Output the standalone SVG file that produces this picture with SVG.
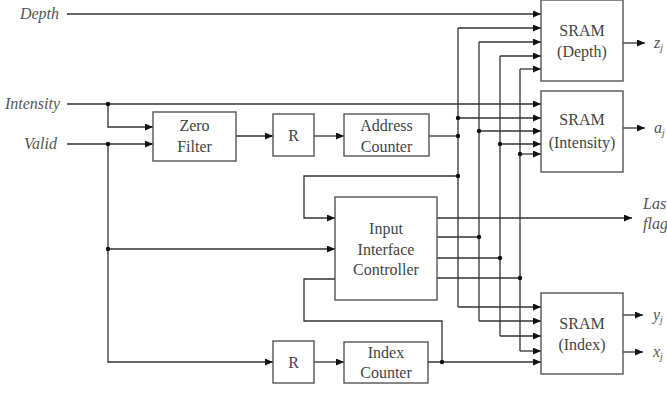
<svg xmlns="http://www.w3.org/2000/svg" width="667" height="408" viewBox="0 0 667 408">
<style>
.box{fill:#fff;stroke:#555;stroke-width:1.4}
.t{font-family:'Liberation Serif','DejaVu Serif',serif;font-size:16px;fill:#444;text-anchor:middle;dominant-baseline:central}
.lb{font-family:'Liberation Serif','DejaVu Serif',serif;font-size:16px;font-style:italic;fill:#555}
.w{fill:none;stroke:#333;stroke-width:1.3}
.a{marker-end:url(#arr)}
.d{fill:#111}
</style>
<defs>
<marker id="arr" markerUnits="userSpaceOnUse" markerWidth="9" markerHeight="8" refX="8" refY="3.5" orient="auto">
<path d="M0,0 L8,3.5 L0,7 z" fill="#111"/>
</marker>
</defs>
<rect width="667" height="408" fill="#fff"/>
<g id="labels">
<text class="lb" x="59" y="19" text-anchor="end">Depth</text>
<text class="lb" x="60" y="109" text-anchor="end">Intensity</text>
<text class="lb" x="57" y="149" text-anchor="end">Valid</text>
<text class="lb" x="654" y="48">z<tspan font-size="10" dy="3">j</tspan></text>
<text class="lb" x="654" y="133">a<tspan font-size="10" dy="3">j</tspan></text>
<text class="lb" x="643" y="209">Last</text>
<text class="lb" x="643" y="229">flag</text>
<text class="lb" x="653" y="320">y<tspan font-size="10" dy="3">j</tspan></text>
<text class="lb" x="653" y="357">x<tspan font-size="10" dy="3">j</tspan></text>
</g>
<g id="connectors">
<path class="w a" d="M67,14 H541"/>
<path class="w a" d="M67,104 H541"/>
<path class="w a" d="M108,104 V127 H153"/>
<path class="w a" d="M67,144 H153"/>
<path class="w a" d="M108,144 V362 H273"/>
<path class="w a" d="M108,249 H335"/>
<path class="w a" d="M236,136 H273"/>
<path class="w a" d="M314,136 H344"/>
<path class="w" d="M429,136 H458"/>
<path class="w" d="M458,28 V307"/>
<path class="w a" d="M458,28 H541"/>
<path class="w a" d="M458,118 H541"/>
<path class="w a" d="M458,307 H541"/>
<path class="w" d="M479,42 V321"/>
<path class="w a" d="M479,42 H541"/>
<path class="w a" d="M479,131 H541"/>
<path class="w a" d="M479,321 H541"/>
<path class="w" d="M500,56 V336"/>
<path class="w a" d="M500,56 H541"/>
<path class="w a" d="M500,144 H541"/>
<path class="w a" d="M500,336 H541"/>
<path class="w" d="M520,69 V351"/>
<path class="w a" d="M520,69 H541"/>
<path class="w a" d="M520,154 H541"/>
<path class="w a" d="M520,351 H541"/>
<path class="w a" d="M458,176 H304 V218 H335"/>
<path class="w a" d="M437,218 H632"/>
<path class="w" d="M437,237 H479"/>
<path class="w" d="M437,258 H500"/>
<path class="w" d="M437,278 H520"/>
<path class="w" d="M335,279 H304 V321 H442 V362"/>
<path class="w a" d="M314,362 H344"/>
<path class="w a" d="M428,362 H541"/>
<path class="w a" d="M623,43 H645"/>
<path class="w a" d="M623,128 H645"/>
<path class="w a" d="M623,315 H643"/>
<path class="w a" d="M623,352 H643"/>
<circle class="d" cx="108" cy="104" r="2.2"/>
<circle class="d" cx="108" cy="144" r="2.2"/>
<circle class="d" cx="108" cy="249" r="2.2"/>
<circle class="d" cx="458" cy="118" r="2.2"/>
<circle class="d" cx="458" cy="136" r="2.2"/>
<circle class="d" cx="458" cy="176" r="2.2"/>
<circle class="d" cx="479" cy="131" r="2.2"/>
<circle class="d" cx="479" cy="237" r="2.2"/>
<circle class="d" cx="500" cy="144" r="2.2"/>
<circle class="d" cx="500" cy="258" r="2.2"/>
<circle class="d" cx="520" cy="154" r="2.2"/>
<circle class="d" cx="520" cy="278" r="2.2"/>
<circle class="d" cx="442" cy="362" r="2.2"/>
</g>
<g id="zero-filter">
<rect class="box" x="153" y="112" width="83" height="49"/>
<text class="t" x="194.5" y="125">Zero</text>
<text class="t" x="194.5" y="146">Filter</text>
</g>
<g id="r1">
<rect class="box" x="273" y="114" width="41" height="42"/>
<text class="t" x="293.5" y="135">R</text>
</g>
<g id="address-counter">
<rect class="box" x="344" y="114" width="85" height="42"/>
<text class="t" x="386.5" y="125">Address</text>
<text class="t" x="386.5" y="146">Counter</text>
</g>
<g id="sram-depth">
<rect class="box" x="541" y="0" width="82" height="81"/>
<text class="t" x="582" y="30">SRAM</text>
<text class="t" x="582" y="51">(Depth)</text>
</g>
<g id="sram-intensity">
<rect class="box" x="541" y="91" width="82" height="81"/>
<text class="t" x="582" y="119">SRAM</text>
<text class="t" x="582" y="142">(Intensity)</text>
</g>
<g id="controller">
<rect class="box" x="335" y="197" width="102" height="103"/>
<text class="t" x="386" y="228">Input</text>
<text class="t" x="386" y="249">Interface</text>
<text class="t" x="386" y="269">Controller</text>
</g>
<g id="sram-index">
<rect class="box" x="541" y="293" width="82" height="81"/>
<text class="t" x="582" y="323">SRAM</text>
<text class="t" x="582" y="344">(Index)</text>
</g>
<g id="r2">
<rect class="box" x="273" y="341" width="41" height="42"/>
<text class="t" x="293.5" y="362">R</text>
</g>
<g id="index-counter">
<rect class="box" x="344" y="342" width="84" height="41"/>
<text class="t" x="386" y="352">Index</text>
<text class="t" x="386" y="372">Counter</text>
</g>
</svg>
